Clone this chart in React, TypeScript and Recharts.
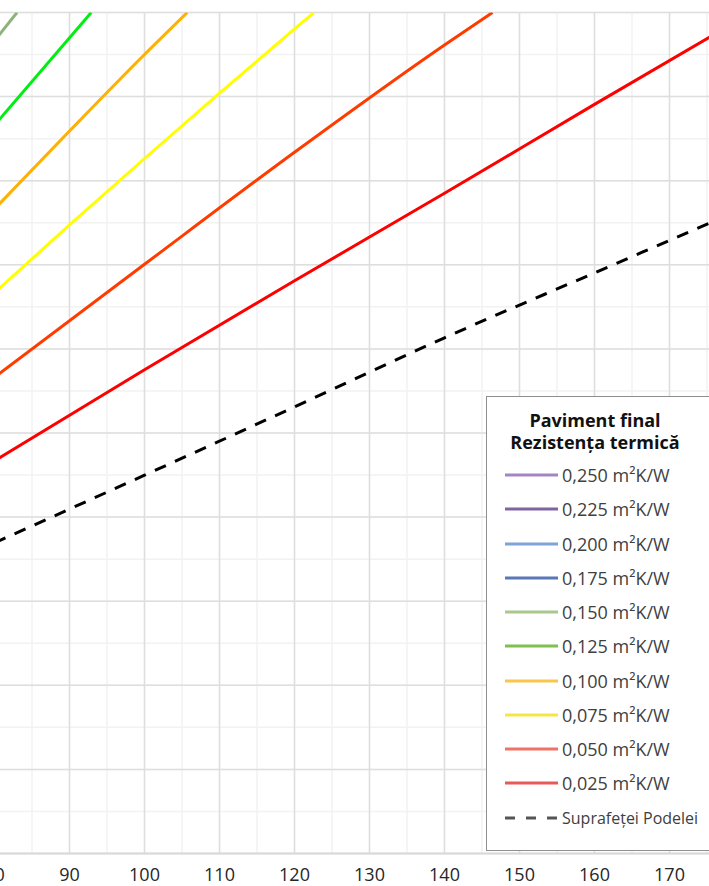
import { LineChart, Line, XAxis, YAxis, CartesianGrid } from 'recharts';

// valori (x = axa orizontala, y = axa verticala, 0..50)
const xTicks = [80, 90, 100, 110, 120, 130, 140, 150, 160, 170];
const yTicks = [0, 5, 10, 15, 20, 25, 30, 35, 40, 45, 50];

const r025 = [
  { x: 80, y: 23.35 }, { x: 100, y: 28.76 }, { x: 120, y: 34.05 },
  { x: 140, y: 39.25 }, { x: 160, y: 44.54 }, { x: 180, y: 49.75 },
];
const r050 = [
  { x: 80, y: 28.32 }, { x: 100, y: 35.03 }, { x: 120, y: 41.69 },
  { x: 140, y: 48.07 }, { x: 146.4, y: 50 },
];
const r075 = [
  { x: 80, y: 33.34 }, { x: 90, y: 37.37 }, { x: 100, y: 41.32 },
  { x: 110, y: 45.2 }, { x: 120, y: 49.02 }, { x: 122.6, y: 50 },
];
const r100 = [{ x: 80, y: 38.32 }, { x: 90, y: 42.95 }, { x: 100, y: 47.5 }, { x: 105.7, y: 50 }];
const r125 = [{ x: 80, y: 43.3 }, { x: 92.9, y: 50 }];
const r150 = [{ x: 80, y: 48.32 }, { x: 83, y: 50 }];
// curbele 0,175 ... 0,250 sunt in afara zonei vizibile
const r175: { x: number; y: number }[] = [];
const r200: { x: number; y: number }[] = [];
const r225: { x: number; y: number }[] = [];
const r250: { x: number; y: number }[] = [];
const floorLine = [
  { x: 80, y: 18.47 }, { x: 100, y: 22.49 }, { x: 120, y: 26.55 },
  { x: 140, y: 30.66 }, { x: 160, y: 34.52 }, { x: 180, y: 38.38 },
];

const labels = [
  '0,250 m²K/W', '0,225 m²K/W', '0,200 m²K/W', '0,175 m²K/W', '0,150 m²K/W',
  '0,125 m²K/W', '0,100 m²K/W', '0,075 m²K/W', '0,050 m²K/W', '0,025 m²K/W',
];
const seriesData = [r250, r225, r200, r175, r150, r125, r100, r075, r050, r025];
const lineColors = [
  '#a385c4', '#8064a2', '#7fa3d9', '#5a77b8', '#8db37a',
  '#00ee11', '#ffb000', '#ffff00', '#ff3c00', '#ff0000',
];
const legendColors = [
  '#a385c4', '#8064a2', '#7fa3d9', '#5a77b8', '#a9c88e',
  '#7ec04e', '#f9c54a', '#f5e546', '#f07366', '#e85a5a',
];

// grila secundara la 2,5 pe X si 1,25 pe Y
const minorX: number[] = [];
for (let v = 75; v <= 180; v += 2.5) minorX.push(v);
const minorY: number[] = [];
for (let v = 0; v <= 50; v += 1.25) minorY.push(v);

const FONT = '"Open Sans", "Noto Sans", sans-serif';

function ChartLegend() {
  return (
    <div
      style={{
        position: 'absolute', left: 486, top: 396, width: 240, height: 455,
        boxSizing: 'border-box', border: '1.5px solid #8f8f8f', background: '#fff',
        fontFamily: FONT,
      }}
    >
      <div
        style={{
          position: 'absolute', left: 0, top: 12, width: 216, textAlign: 'center',
          fontWeight: 700, fontSize: 18, lineHeight: '22px', color: '#111',
        }}
      >
        Paviment final<br />Rezistența termică
      </div>
      {labels.map((lab, i) => (
        <div key={lab} style={{ position: 'absolute', left: 0, top: 61 + i * 34.25, height: 34, width: 240 }}>
          <svg width={56} height={34} style={{ position: 'absolute', left: 16, top: 0 }}>
            <line x1={2} y1={17} x2={55} y2={17} stroke={legendColors[i]} strokeWidth={3} />
          </svg>
          <span style={{ position: 'absolute', left: 75, top: 5, fontSize: 18, lineHeight: '24px', color: '#404040', whiteSpace: 'nowrap' }}>
            {lab}
          </span>
        </div>
      ))}
      <div style={{ position: 'absolute', left: 0, top: 61 + 10 * 34.25, height: 34, width: 240 }}>
        <svg width={56} height={34} style={{ position: 'absolute', left: 16, top: 0 }}>
          <line x1={2} y1={17} x2={55} y2={17} stroke="#555" strokeWidth={3} strokeDasharray="10 11" />
        </svg>
        <span style={{ position: 'absolute', left: 75, top: 6, fontSize: 16, lineHeight: '22px', color: '#404040', whiteSpace: 'nowrap' }}>
          Suprafeței Podelei
        </span>
      </div>
    </div>
  );
}

export default function App() {
  return (
    <div style={{ position: 'fixed', left: 0, top: 0, width: 709, height: 886, overflow: 'hidden', background: '#fff' }}>
      <div style={{ position: 'absolute', left: -43.5, top: 0 }}>
        <LineChart width={807.5} height={893.5} margin={{ top: 12.5, right: 20, bottom: 0, left: 0 }}>
          <CartesianGrid stroke="#f2f2f2" strokeWidth={1.5} horizontalValues={minorY} verticalValues={minorX} />
          <CartesianGrid stroke="#dedede" strokeWidth={1.5} />
          <XAxis
            type="number"
            dataKey="x"
            domain={[75, 180]}
            ticks={xTicks}
            allowDataOverflow
            height={40}
            tickLine={false}
            tickSize={0}
            tickMargin={15}
            axisLine={{ stroke: '#d9d9d9', strokeWidth: 2 }}
            tick={{ fill: '#262626', fontSize: 18, fontFamily: FONT }}
          />
          <YAxis type="number" domain={[0, 50]} ticks={yTicks} allowDataOverflow hide />
          {seriesData.map((d, i) => (
            <Line
              key={labels[i]}
              data={d}
              dataKey="y"
              name={labels[i]}
              type="monotone"
              stroke={lineColors[i]}
              strokeWidth={3}
              dot={false}
              activeDot={false}
              isAnimationActive={false}
            />
          ))}
          <Line
            data={floorLine}
            dataKey="y"
            name="Suprafeței Podelei"
            type="monotone"
            stroke="#000"
            strokeWidth={3}
            strokeDasharray="12 10"
            dot={false}
            activeDot={false}
            isAnimationActive={false}
          />
        </LineChart>
      </div>
      <ChartLegend />
    </div>
  );
}
